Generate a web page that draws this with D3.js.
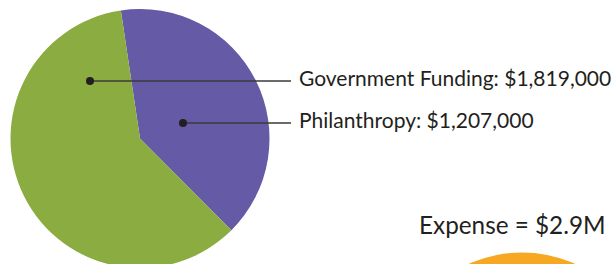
<!DOCTYPE html>
<html><head><meta charset="utf-8">
<script src="https://cdn.jsdelivr.net/npm/d3@7"></script>
<style>body{margin:0;background:#fff}svg{display:block}</style>
</head><body>
<svg id="c" width="615" height="264"></svg>
<script>
const categories = ["Philanthropy", "Government Funding"];
const values = [1207000, 1819000];
const colors = ["#655AA6", "#8AAC40"];
const labels = ["Philanthropy: $1,207,000", "Government Funding: $1,819,000"];
const expenseLabel = "Expense = $2.9M";

const svg = d3.select("#c");
const cx = 140, cy = 138.5, r = 129.5;
const pie = d3.pie().sort(null).startAngle(-8.5 * Math.PI / 180).endAngle(351.5 * Math.PI / 180);
const arc = d3.arc().innerRadius(0).outerRadius(r);
const g = svg.append("g").attr("transform", `translate(${cx},${cy})`);
g.selectAll("path").data(pie(values)).join("path")
  .attr("d", arc).attr("fill", (d, i) => colors[i]);

// annotation layout (dot x, line y, text baseline)
const ann = [
  {dx: 183, y: 123, ty: 128},
  {dx: 90, y: 81, ty: 86}
];
const font = "Lato, 'Noto Sans', sans-serif";
ann.forEach((a, i) => {
  svg.append("line").attr("x1", a.dx).attr("x2", 291).attr("y1", a.y).attr("y2", a.y)
    .attr("stroke", "#3a3a3c").attr("stroke-width", 1.5);
  svg.append("circle").attr("cx", a.dx).attr("cy", a.y).attr("r", 4).attr("fill", "#231F20");
  svg.append("text").attr("x", 299).attr("y", a.ty).attr("font-family", font)
    .attr("font-size", 21).attr("fill", "#231F20").text(labels[i]);
});

svg.append("text").attr("x", 419).attr("y", 234).attr("font-family", font)
  .attr("font-size", 24.3).attr("fill", "#231F20").text(expenseLabel);
svg.append("circle").attr("cx", 522).attr("cy", 382).attr("r", 129.5).attr("fill", "#F7A823");
</script>
</body></html>
